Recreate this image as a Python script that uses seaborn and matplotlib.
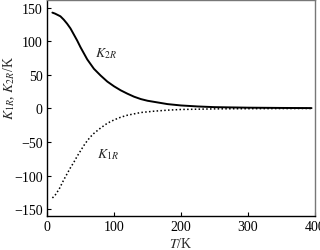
import matplotlib
matplotlib.use("Agg")
import matplotlib.pyplot as plt
import seaborn as sns
import pandas as pd

# Data
T_k2 = [8, 12, 16, 20, 25, 30, 35, 40, 45, 50, 55, 60, 65, 70, 80, 90, 100, 110, 120,
        130, 140, 150, 165, 180, 200, 225, 250, 300, 350, 395]
K2R = [142.5, 141, 139, 137, 132, 126, 119, 110, 101, 91, 82, 73, 66, 59, 49, 40, 33, 27, 22,
       17.5, 14, 11.5, 9, 6.5, 4.5, 3, 2, 1.2, 0.8, 0.6]
T_k1 = [8, 12, 18, 25, 30, 35, 40, 45, 50, 55, 60, 65, 70, 80, 90, 100, 110, 120,
        140, 160, 180, 200, 250, 300, 350, 395]
K1R = [-133, -129, -120, -106, -97, -88, -80, -71, -63, -55, -48, -42, -37, -29, -22, -17, -13, -10,
       -6, -4, -2.5, -1.5, -0.6, -0.3, -0.1, 0]

xticks = [0, 100, 200, 300, 400]
yticks = [-150, -100, -50, 0, 50, 100, 150]

sns.set_style("ticks")
plt.rcParams['font.family'] = ['Liberation Serif', 'DejaVu Serif']
plt.rcParams['mathtext.fontset'] = 'stix'
plt.rcParams['font.size'] = 10

fig = plt.figure(figsize=(3.2, 2.51), dpi=100)
ax = fig.add_axes([0.147, 0.135, 0.837, 0.863])

df2 = pd.DataFrame({"T": T_k2, "K": K2R})
df1 = pd.DataFrame({"T": T_k1, "K": K1R})
sns.lineplot(data=df2, x="T", y="K", ax=ax, color="black", lw=1.4)
sns.lineplot(data=df1, x="T", y="K", ax=ax, color="black", lw=1.1, linestyle=(0, (1, 1.5)))

ax.set_xlim(0, 400)
ax.set_ylim(-160, 162)
ax.set_xticks(xticks)
ax.set_yticks(yticks)
ax.set_yticklabels([str(v).replace('-', '\u2212') for v in yticks])
ax.tick_params(direction='in', length=3, width=0.8, labelsize=10, colors='black', pad=3)
for s in ['top', 'right']:
    ax.spines[s].set_color('#777777')
for s in ['left', 'bottom']:
    ax.spines[s].set_color('black')
for s in ax.spines.values():
    s.set_linewidth(1.0)

ax.set_xlabel(r"$T$/K", fontsize=10, labelpad=2)
ax.set_ylabel("")
fig.text(0.004, 1 - 88 / 251, r"$K_{1R}$, $K_{2R}$/K", fontsize=10, rotation=90,
         ha='left', va='center')

ax.text(72, 83, r"$K_{2R}$", fontsize=10, ha='left', va='center')
ax.text(75, -67, r"$K_{1R}$", fontsize=10, ha='left', va='center')

fig.savefig("out.png", dpi=100)
